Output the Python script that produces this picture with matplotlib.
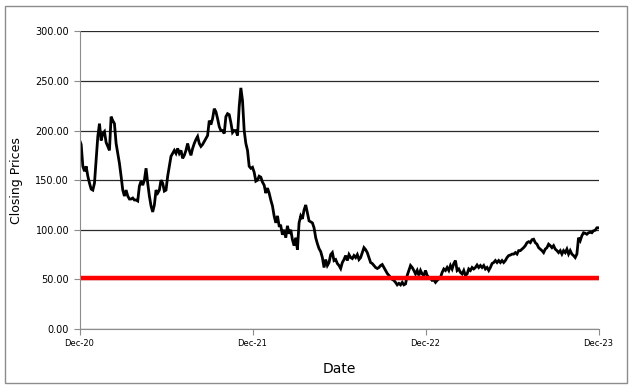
import matplotlib
matplotlib.use("Agg")
import matplotlib.pyplot as plt
import matplotlib.dates as mdates
import pandas as pd
from matplotlib.patches import Rectangle

# closing prices, roughly every 3.5 days from Dec-20 to Dec-23
prices = [
    190.5, 186, 164, 159, 164, 154, 147, 141, 140, 147, 170, 194, 207, 190, 197, 199, 188, 184, 180, 214,
    210, 207, 187, 177, 167, 154, 140, 134, 140, 134, 131, 131, 132, 130, 130, 129, 144, 149, 145, 150,
    162, 147, 134, 124, 118, 125, 140, 137, 140, 150, 147, 139, 140, 154, 164, 174, 177, 180, 177, 182,
    177, 180, 172, 175, 180, 187, 180, 175, 182, 187, 191, 194, 187,
    184, 186, 189, 192, 195, 210, 206, 212, 222, 219, 212, 204, 200, 200, 197, 214, 217, 216, 208, 198,
    200, 200, 195, 224, 243, 230, 200, 187, 180, 164, 162, 163, 158, 149, 150, 154, 153, 148, 145, 137,
    142, 137, 130, 124, 114, 107, 114, 104,
    104, 95, 100, 92, 104, 96,
    100, 90, 84, 92, 80, 107, 114, 111, 120, 125, 117, 109, 108, 107, 102, 92, 86, 81, 78, 72,
    62, 70, 64, 67, 75, 77, 69, 70, 66, 64, 61, 67, 70, 74, 69, 75, 72, 71, 74, 72,
    75, 70, 72, 77, 82, 80, 77, 72, 67, 66, 64, 62, 61, 62, 64, 65, 62, 59, 56, 54,
    52, 50, 49, 47, 44.5, 46, 44.5, 47, 44.5, 45.5, 54, 59,
    64, 62, 59, 55.5, 59, 54, 59, 55.5, 54, 59, 54, 52, 51, 49, 49.5, 47, 49, 50.5, 52, 57,
    60.5, 59, 62, 59, 64, 60.5, 66, 69, 59, 60.5, 57, 55.5, 59, 54, 55.5, 60.5, 59, 62, 60.5, 62,
    64.5, 62, 64, 62, 64, 60.5, 62, 59, 62, 66, 67, 69, 67, 69, 67, 69, 67, 69, 72, 74,
    74.5, 75.5, 75.5, 77, 75.5, 79, 79, 80.5, 82, 84, 87, 88, 87, 90, 90.5, 87, 85.5, 82,
    80.5, 79, 77, 80.5, 82, 85.5, 84, 82, 84, 80.5, 79, 77, 79, 75.5, 79, 77, 80.5, 75.5, 79, 75.5,
    74, 72, 75.5, 92, 89, 94, 97, 96.5, 95.5, 97, 97.5, 97, 99, 99.5, 102, 102,
]
start_date = "2020-12-01"
end_date = "2023-12-01"
threshold = 51
tick_dates = ["2020-12-01", "2021-12-01", "2022-12-01", "2023-12-01"]

dates = pd.date_range(start_date, end_date, periods=len(prices))

fig = plt.figure(figsize=(6.32, 3.89), dpi=100)
ax = fig.add_axes([0.1258, 0.1542, 0.8212, 0.7653])

# outer chart border
fig.patches.append(Rectangle((0.008, 0.015), 0.984, 0.970, transform=fig.transFigure,
                             fill=False, edgecolor="#8c8c8c", linewidth=1.0))

ax.set_ylim(0, 300)
ax.set_yticks(range(0, 301, 50))
ax.yaxis.set_major_formatter(plt.FuncFormatter(lambda v, p: "{:.2f}".format(v)))
ax.grid(axis="y", color="#2a2a2a", linewidth=0.9)
ax.set_axisbelow(True)

ax.plot(dates, prices, color="black", linewidth=2.0, solid_joinstyle="miter")
ax.axhline(threshold, color="#ff0000", linewidth=3.2)

ax.set_xlim(pd.Timestamp(start_date), pd.Timestamp(end_date))
ax.set_xticks(pd.to_datetime(tick_dates))
ax.xaxis.set_major_formatter(mdates.DateFormatter("%b-%y"))

for side in ["top", "right"]:
    ax.spines[side].set_visible(False)
for side in ["left", "bottom"]:
    ax.spines[side].set_color("#8c8c8c")
ax.tick_params(axis="both", direction="out", color="#8c8c8c", length=4)
ax.tick_params(axis="y", labelsize=7)
ax.tick_params(axis="x", labelsize=6)

ax.set_xlabel("Date", fontsize=10, labelpad=10)
ax.set_ylabel("Closing Prices", fontsize=9, labelpad=9)

fig.savefig("out.png", dpi=100)
